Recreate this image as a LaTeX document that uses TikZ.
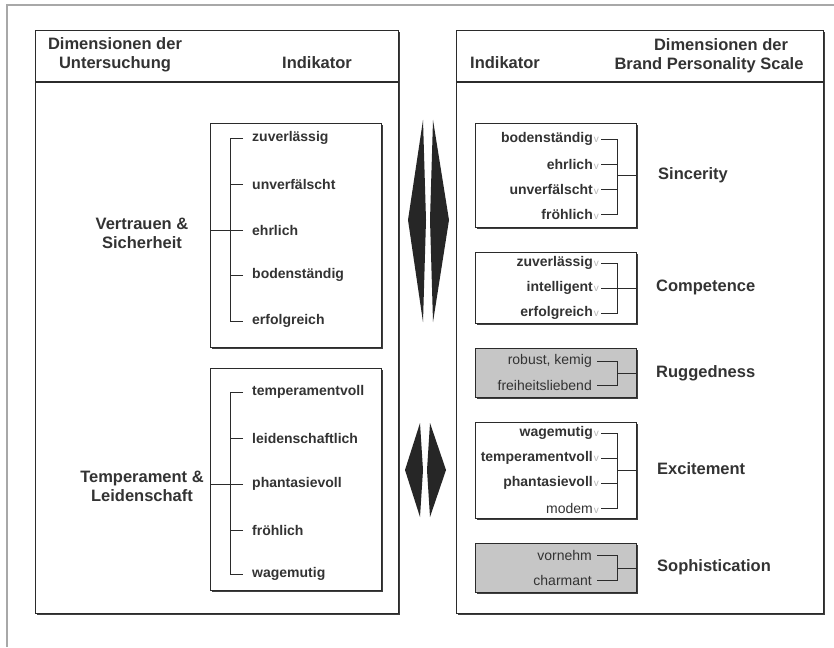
\documentclass[tikz,border=0pt]{standalone}
\usepackage{fontspec}
\setmainfont{Liberation Sans}
\usetikzlibrary{shadows}
\definecolor{ink}{HTML}{333333}
\definecolor{edge}{HTML}{2B2B2B}
\definecolor{shade}{HTML}{C6C6C6}
\definecolor{frameline}{HTML}{A8A8A8}
% small grey check mark after an indicator
\newcommand{\chk}{\kern1pt{\color{black!28}\fontsize{10}{10}\selectfont\mdseries v}\kern2pt}
\tikzset{
  box/.style={draw=edge, line width=0.9pt, fill=white, anchor=north west, inner sep=0pt,
    drop shadow={shadow xshift=1.6pt, shadow yshift=-1.6pt, fill=edge, opacity=0.9}},
  graybox/.style={box, fill=shade},
  item/.style={inner sep=0pt, font=\fontsize{14}{16}\selectfont\bfseries, text=ink},
  plainitem/.style={inner sep=0pt, font=\fontsize{14}{16}\selectfont, text=ink},
  dim/.style={inner sep=0pt, font=\fontsize{16.5}{19}\selectfont\bfseries, text=ink, align=center},
  link/.style={draw=edge, line width=0.8pt},
  spike/.style={fill=black!85, draw=none},
  sep/.style={draw=edge, line width=1.8pt}
}
\begin{document}
\begin{tikzpicture}[x=1pt,y=-1pt]
\useasboundingbox (0,0) rectangle (834,647);
\fill[white] (0,0) rectangle (834,647);

% outer page frame
\draw[frameline, line width=1.2pt] (7,647) -- (7,5) -- (834,5);

% ---------- left panel ----------
\node[box, minimum width=363pt, minimum height=583pt] (lp) at (35,30) {};
\draw[sep] (35,82) -- (398,82);
\node[dim] (lh1) at (115,55) {Dimensionen der\\Untersuchung};
\node[dim] (lh2) at (317,63) {Indikator};

\node[box, minimum width=171pt, minimum height=224pt] (lb1) at (210,123) {};
\node[box, minimum width=171pt, minimum height=222pt] (lb2) at (210,368) {};

\coordinate (sp) at (230,0);

\node[item, anchor=west] (a1) at (252,138) {zuverlässig};
\node[item, anchor=west] (a2) at (252,184) {unverfälscht};
\node[item, anchor=west] (a3) at (252,230) {ehrlich};
\node[item, anchor=west] (a4) at (252,275) {bodenständig};
\node[item, anchor=west] (a5) at (252,321) {erfolgreich};

\draw[link] ([xshift=-9pt]a1.west) -- (a1.west -| sp) -- (a5.west -| sp) -- ([xshift=-9pt]a5.west);
\foreach \n in {a2,a3,a4} \draw[link] ([xshift=-9pt]\n.west) -- (\n.west -| sp);
\draw[link] (lb1.west |- a3.west) -- (a3.west -| sp);

\node[item, anchor=west] (t1) at (252,392) {temperamentvoll};
\node[item, anchor=west] (t2) at (252,438) {leidenschaftlich};
\node[item, anchor=west] (t3) at (252,484) {phantasievoll};
\node[item, anchor=west] (t4) at (252,530) {fröhlich};
\node[item, anchor=west] (t5) at (252,574) {wagemutig};

\draw[link] ([xshift=-9pt]t1.west) -- (t1.west -| sp) -- (t5.west -| sp) -- ([xshift=-9pt]t5.west);
\foreach \n in {t2,t3,t4} \draw[link] ([xshift=-9pt]\n.west) -- (\n.west -| sp);
\draw[link] (lb2.west |- t3.west) -- (t3.west -| sp);

\node[dim] (ld1) at (142,233) {Vertrauen \&\\Sicherheit};
\node[dim] (ld2) at (142,486) {Temperament \&\\Leidenschaft};

% ---------- double arrows between the panels ----------
\path[spike] (423,120) -- (408,220) -- (423,322) -- (426,220) -- cycle;
\path[spike] (433,120) -- (449,220) -- (433,322) -- (430,220) -- cycle;
\path[spike] (420,423) -- (405,470) -- (420,517) -- (423,470) -- cycle;
\path[spike] (430,423) -- (446,470) -- (430,517) -- (427,470) -- cycle;

% ---------- right panel ----------
\node[box, minimum width=367pt, minimum height=583pt] (rp) at (456,30) {};
\draw[sep] (456,82) -- (823,82);
\node[dim] (rh1) at (505,63) {Indikator};
\node[dim] (rh2) at (721,45) {Dimensionen der};
\node[dim] (rh3) at (709,65) {Brand Personality Scale};

\node[box, minimum width=161pt, minimum height=104pt] (rb1) at (475,123) {};
\node[box, minimum width=161pt, minimum height=71pt] (rb2) at (475,252) {};
\node[graybox, minimum width=161pt, minimum height=49pt] (rb3) at (475,348) {};
\node[box, minimum width=161pt, minimum height=96pt] (rb4) at (475,422) {};
\node[graybox, minimum width=161pt, minimum height=49pt] (rb5) at (475,543) {};

\coordinate (br) at (617,0);

% Sincerity
\node[item, anchor=east] (s1) at (601,139) {bodenständig\chk};
\node[item, anchor=east] (s2) at (601,164) {ehrlich\chk};
\node[item, anchor=east] (s3) at (601,189) {unverfälscht\chk};
\node[item, anchor=east] (s4) at (601,214) {fröhlich\chk};
\draw[link] (s1.east) -- (s1.east -| br) -- (s4.east -| br) -- (s4.east);
\foreach \n in {s2,s3} \draw[link] (\n.east) -- (\n.east -| br);
\draw[link] (rb1.east) -- (rb1.east -| br);

% Competence
\node[item, anchor=east] (c1) at (601,263) {zuverlässig\chk};
\node[item, anchor=east] (c2) at (601,288) {intelligent\chk};
\node[item, anchor=east] (c3) at (601,313) {erfolgreich\chk};
\draw[link] (c1.east) -- (c1.east -| br) -- (c3.east -| br) -- (c3.east);
\draw[link] (c2.east) -- (c2.east -| br);
\draw[link] (rb2.east) -- (rb2.east -| br);

% Ruggedness
\node[plainitem, anchor=east] (g1) at (597,361) {robust, kemig\kern5pt};
\node[plainitem, anchor=east] (g2) at (597,385) {freiheitsliebend\kern5pt};
\draw[link] (g1.east) -- (g1.east -| br) -- (g2.east -| br) -- (g2.east);
\draw[link] (rb3.east) -- (rb3.east -| br);

% Excitement
\node[item, anchor=east] (e1) at (601,433) {wagemutig\chk};
\node[item, anchor=east] (e2) at (601,458) {temperamentvoll\chk};
\node[item, anchor=east] (e3) at (601,483) {phantasievoll\chk};
\node[plainitem, anchor=east] (e4) at (601,508) {modem\chk};
\draw[link] (e1.east) -- (e1.east -| br) -- (e4.east -| br) -- (e4.east);
\foreach \n in {e2,e3} \draw[link] (\n.east) -- (\n.east -| br);
\draw[link] (rb4.east) -- (rb4.east -| br);

% Sophistication
\node[plainitem, anchor=east] (p1) at (597,555) {vornehm\kern5pt};
\node[plainitem, anchor=east] (p2) at (597,580) {charmant\kern5pt};
\draw[link] (p1.east) -- (p1.east -| br) -- (p2.east -| br) -- (p2.east);
\draw[link] (rb5.east) -- (rb5.east -| br);

% dimension names
\node[dim, anchor=west] (d1) at (658,175) {Sincerity};
\node[dim, anchor=west] (d2) at (656,287) {Competence};
\node[dim, anchor=west] (d3) at (656,373) {Ruggedness};
\node[dim, anchor=west] (d4) at (657,469) {Excitement};
\node[dim, anchor=west] (d5) at (657,567) {Sophistication};
\end{tikzpicture}
\end{document}
